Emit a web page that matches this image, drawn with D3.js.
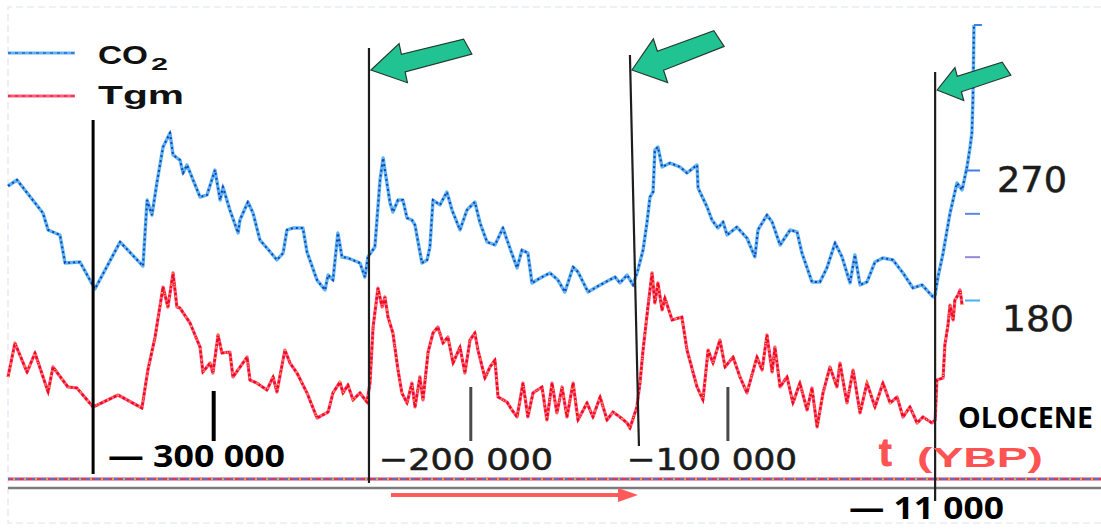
<!DOCTYPE html>
<html>
<head>
<meta charset="utf-8">
<script src="https://cdn.jsdelivr.net/npm/d3@7/dist/d3.min.js"></script>
<style>
body { margin: 0; background: #fff; }
svg { display: block; }
</style>
</head>
<body>
<div id="chart"></div>
<script>
// ages in thousands of years before present (kyr BP)
var co2Age = [380.0,376.5,366.4,364.4,359.8,357.8,352.0,346.2,336.4,327.5,
  325.9,324.0,322.1,319.7,317.0,315.8,313.1,311.9,310.4,305.3,
  302.6,299.5,297.5,296.4,293.7,290.5,289.8,286.7,284.7,282.0,
  279.3,275.4,273.0,271.5,269.2,265.3,263.7,259.8,256.7,255.5,
  253.6,251.7,250.1,247.8,243.1,241.2,240.0,237.3,235.3,234.1,
  233.4,231.4,230.3,228.3,226.4,224.8,222.9,221.7,219.0,217.0,
  215.9,214.7,212.0,209.3,207.3,204.2,201.5,198.4,196.4,193.7,
  190.6,187.5,185.9,182.0,180.1,177.8,176.2,172.3,169.2,166.1,
  163.4,160.2,158.3,154.4,149.7,143.9,142.0,139.2,136.9,135.0,
  133.0,131.5,130.3,129.1,128.4,127.2,125.6,122.5,118.6,115.9,
  112.0,111.6,108.1,106.2,103.9,101.9,100.3,96.5,92.6,89.5,
  88.3,84.8,82.8,79.7,75.8,73.1,71.2,67.3,64.2,61.5,
  58.3,55.6,52.5,50.6,48.6,45.9,42.8,39.7,35.8,31.9,
  28.0,24.5,20.2,19.4,18.3,16.3,13.6,10.9,8.9,7.0,
  5.8,5.1,4.7,4.5,4.3];
// CO2 in ppm
var co2Ppm = [258.9,263.1,240.2,228.5,225.0,205.6,206.3,187.6,220.2,203.5,
  249.2,238.8,261.0,285.9,295.6,280.4,276.9,267.9,273.5,251.3,
  252.7,270.0,249.2,258.2,242.3,226.4,235.4,247.8,240.2,221.5,
  216.0,207.7,212.5,228.5,229.8,229.8,213.2,193.8,186.9,197.3,
  193.8,226.4,209.8,209.1,205.6,195.9,209.8,216.7,263.1,278.3,
  270.0,247.2,240.9,249.2,249.2,236.8,235.4,231.9,205.6,207.7,
  216.7,249.2,245.8,254.8,242.3,228.5,242.3,247.8,233.3,220.2,
  218.1,229.8,221.5,202.2,214.6,212.5,191.8,195.9,198.7,193.8,
  185.5,202.8,199.4,185.5,190.4,195.9,191.8,197.3,190.4,200.8,
  214.6,233.3,251.3,254.8,283.8,285.9,272.1,274.8,272.1,267.9,
  273.5,257.5,244.4,235.4,229.8,234.0,225.0,230.5,222.9,209.8,
  228.5,238.8,234.0,218.1,228.5,227.1,212.5,192.5,192.5,202.2,
  219.5,209.8,191.8,211.2,190.4,192.5,206.3,209.1,207.7,198.7,
  188.3,190.4,182.1,183.5,195.9,212.5,240.2,261.0,256.2,272.1,
  285.9,295.6,318.5,341.3,370.4];

var tgmAge = [380.0,377.3,372.6,369.5,364.4,362.5,356.7,353.2,346.9,337.2,
  327.9,325.6,322.8,319.7,317.8,315.8,314.3,313.1,309.2,305.3,
  304.2,301.4,300.3,298.3,296.8,293.7,292.5,287.0,285.9,283.2,
  279.3,276.9,275.4,272.3,270.3,267.6,263.7,259.8,255.5,253.6,
  250.9,249.7,247.8,245.8,243.1,240.4,239.2,238.0,236.1,234.5,
  233.4,232.2,230.3,228.3,226.8,224.8,222.9,221.7,219.8,218.6,
  216.6,214.7,212.8,210.8,208.9,206.9,204.2,202.3,200.3,198.4,
  197.2,194.5,192.5,190.6,189.4,185.9,184.0,182.0,179.7,177.8,
  175.8,172.3,170.4,168.4,166.5,164.5,162.6,160.2,158.3,154.8,
  152.5,149.7,147.0,144.7,142.0,139.2,138.1,135.4,134.2,133.0,
  131.1,129.5,128.4,127.2,125.6,124.5,121.7,117.9,115.9,112.0,
  109.7,107.7,105.8,103.1,101.1,98.0,95.3,92.6,88.7,86.7,
  84.8,82.8,81.7,79.7,77.0,74.7,72.0,69.2,67.3,65.3,
  63.0,60.3,57.6,56.4,53.7,51.3,48.6,45.9,42.8,39.7,
  36.9,34.2,31.9,29.2,26.4,24.1,20.6,19.4,18.7,16.3,
  15.6,14.4,13.6,12.4,11.7,10.5,9.7,8.9];
// temperature anomaly, deg C
var tgmVal = [-5.15,-2.54,-4.77,-3.31,-6.31,-4.38,-5.92,-6.0,-7.46,-6.54,
  -7.54,-4.62,-2.08,1.77,0.23,2.85,0.23,0.15,-1.0,-2.85,
  -4.77,-4.08,-4.85,-1.92,-3.31,-3.23,-5.15,-3.62,-5.38,-5.62,
  -6.15,-5.15,-6.31,-3.08,-4.08,-4.85,-6.38,-8.31,-7.85,-6.38,
  -5.54,-6.38,-5.77,-6.92,-6.38,-7.08,-5.62,-1.31,1.69,0.23,
  1.0,-0.54,-1.77,-4.62,-6.38,-7.15,-5.62,-7.46,-5.15,-6.92,
  -3.23,-1.77,-1.31,-2.54,-2.08,-4.08,-2.85,-4.85,-2.31,-1.77,
  -3.08,-5.23,-4.38,-3.85,-6.69,-7.08,-7.69,-8.23,-5.62,-8.23,
  -6.38,-5.92,-8.46,-5.62,-7.92,-5.92,-8.23,-5.62,-8.46,-7.15,
  -8.23,-6.69,-8.46,-7.85,-8.23,-8.69,-9.08,-7.46,-5.62,-3.08,
  0.23,2.85,0.54,2.08,0.0,0.92,-0.77,-0.54,-3.08,-5.92,
  -6.92,-3.08,-4.08,-2.31,-4.38,-3.62,-5.15,-6.38,-3.62,-4.62,
  -1.92,-4.77,-2.85,-5.92,-5.15,-7.15,-5.62,-7.69,-6.0,-9.0,
  -6.38,-4.38,-5.92,-4.08,-7.15,-4.62,-7.92,-5.62,-7.46,-5.62,
  -7.15,-6.69,-8.23,-7.46,-8.69,-8.23,-8.69,-8.46,-5.38,-5.23,
  -2.69,-1.15,0.38,-0.77,0.77,1.15,1.54,0.38];

// annotation lines (terminations), kyr BP at top and bottom
var markAgeTop = [346.9, 239.6, 138.1, 19.4];
var markAgeBottom = [346.9, 239.6, 134.6, 19.4];
var tickAges = [300, 200, 100];
var co2Ticks = [180, 210, 240, 270];
var co2Labels = ["270", "180"];
var legendNames = ["CO", "Tgm"];
var xLabels = ["\u2014 300 000", "\u2212200 000", "\u2212100 000", "\u2014 11 000"];

function draw()
{
  var width = 1101, height = 529;

  var svg = d3.select("#chart").append("svg")
    .attr("width", width)
    .attr("height", height);

  var x = d3.scaleLinear().domain([380, 0]).range([8, 985]);
  var yCo2 = d3.scaleLinear().domain([180, 270]).range([300, 170]);
  var yTgm = d3.scaleLinear().domain([-10, 3]).range([440, 271]);

  // light dashed frame
  svg.append("path")
    .attr("d", "M1101,7H8V523H1101")
    .style("fill", "none")
    .style("stroke", "#dfe5ec")
    .style("stroke-width", 1.2)
    .style("stroke-dasharray", "7,4");

  var co2Data = d3.zip(co2Age, co2Ppm);
  var tgmData = d3.zip(tgmAge, tgmVal);

  var co2Line = d3.line()
    .x(function(d) { return x(d[0]); })
    .y(function(d) { return yCo2(d[1]); });
  var tgmLine = d3.line()
    .x(function(d) { return x(d[0]); })
    .y(function(d) { return yTgm(d[1]); });

  // CO2 : light blue halo + dark blue dots
  svg.append("path").datum(co2Data).attr("d", co2Line)
    .style("fill", "none").style("stroke", "#5cb6f2").style("stroke-width", 3.4)
    .style("stroke-linejoin", "round");
  svg.append("path").datum(co2Data).attr("d", co2Line)
    .style("fill", "none").style("stroke", "#1d3db2").style("stroke-width", 2)
    .style("stroke-dasharray", "2,3");

  // Tgm : pink halo + red dots + yellow specks
  svg.append("path").datum(tgmData).attr("d", tgmLine)
    .style("fill", "none").style("stroke", "#ff5c82").style("stroke-width", 3.2)
    .style("stroke-linejoin", "round");
  svg.append("path").datum(tgmData).attr("d", tgmLine)
    .style("fill", "none").style("stroke", "#f00a1e").style("stroke-width", 2.4)
    .style("stroke-dasharray", "3,2");
  svg.append("path").datum(tgmData).attr("d", tgmLine)
    .style("fill", "none").style("stroke", "#ffd526").style("stroke-width", 1.4)
    .style("stroke-dasharray", "1,11");

  // right CO2 axis (ticks only)
  var axisColors = ["#48b0f5", "#9a86d8", "#5f86e6", "#3f7fea"];
  var yAxis = svg.append("g")
    .attr("transform", "translate(965,0)")
    .call(d3.axisRight(yCo2).tickValues(co2Ticks).tickSize(15).tickFormat(""));
  yAxis.select(".domain").remove();
  yAxis.selectAll(".tick line")
    .style("stroke", function(d, i) { return axisColors[i]; })
    .style("stroke-width", 2);
  // cap at the top of the CO2 curve
  svg.append("line")
    .attr("x1", x(co2Age[co2Age.length - 1]))
    .attr("x2", x(co2Age[co2Age.length - 1]) + 8)
    .attr("y1", yCo2(co2Ppm[co2Ppm.length - 1]))
    .attr("y2", yCo2(co2Ppm[co2Ppm.length - 1]))
    .style("stroke", "#3f7fea").style("stroke-width", 2);

  var labelY = [192, 331], labelX = [997, 1002], labelW = [70, 72];
  svg.selectAll(".co2label")
    .data(co2Labels)
    .enter().append("text")
    .attr("class", "co2label")
    .attr("x", function(d, i) { return labelX[i]; })
    .attr("y", function(d, i) { return labelY[i]; })
    .attr("textLength", function(d, i) { return labelW[i]; })
    .attr("lengthAdjust", "spacingAndGlyphs")
    .style("font-family", "DejaVu Sans")
    .style("font-size", "35px")
    .style("fill", "#1c1c1c")
    .style("stroke", "#1c1c1c")
    .style("stroke-width", 0.5)
    .text(function(d) { return d; });

  // base lines of the original plot
  var baseColors = ["#d23c63", "#4a78d6", "#e6c23a"];
  baseColors.forEach(function(c, i) {
    svg.append("line")
      .attr("x1", 8).attr("x2", width)
      .attr("y1", 479).attr("y2", 479)
      .style("stroke", c)
      .style("stroke-width", i == 0 ? 3 : 1.6)
      .style("stroke-dasharray", i == 0 ? null : (i == 1 ? "5,4" : "2,9"))
      .style("stroke-dashoffset", i * 3);
  });
  svg.append("line")
    .attr("x1", 8).attr("x2", width)
    .attr("y1", 488).attr("y2", 488)
    .style("stroke", "#7c7c7c")
    .style("stroke-width", 2.4);

  // short age ticks
  svg.selectAll(".ageTick")
    .data(tickAges)
    .enter().append("line")
    .attr("class", "ageTick")
    .attr("x1", function(d) { return x(d); })
    .attr("x2", function(d) { return x(d); })
    .attr("y1", function(d, i) { return i == 0 ? 391 : 387; })
    .attr("y2", 441)
    .style("stroke", function(d, i) { return i == 0 ? "#000" : "#4a4a4a"; })
    .style("stroke-width", function(d, i) { return i == 0 ? 4 : 3; });

  // vertical annotation lines
  var markTop = [120, 48, 55, 72], markBottom = [474, 483, 446, 501];
  svg.selectAll(".mark")
    .data(markAgeTop)
    .enter().append("line")
    .attr("class", "mark")
    .attr("x1", function(d) { return x(d); })
    .attr("x2", function(d, i) { return x(markAgeBottom[i]); })
    .attr("y1", function(d, i) { return markTop[i]; })
    .attr("y2", function(d, i) { return markBottom[i]; })
    .style("stroke", function(d, i) { return i == 0 ? "#000" : "#1e1e1e"; })
    .style("stroke-width", function(d, i) { return i == 0 ? 3 : 2.2; });

  // green block arrows pointing at the lines
  var arrows = [
    {tipY: 70, L: 97, hl: 33, hw: 20, sw: 9, rot: -12},
    {tipY: 70, L: 90, hl: 30, hw: 23, sw: 10, rot: -18},
    {tipY: 90, L: 70, hl: 23, hw: 17, sw: 8, rot: -15}
  ];
  arrows.forEach(function(a, i) {
    var tipX = x(markAgeTop[i + 1]) + 2;
    var pts = [[0, 0], [a.hl, -a.hw], [a.hl, -a.sw], [a.L, -a.sw - 2],
               [a.L + 5, a.sw * 0.6], [a.hl, a.sw], [a.hl, a.hw]];
    svg.append("polygon")
      .attr("points", pts.map(function(p) { return p.join(","); }).join(" "))
      .attr("transform", "translate(" + tipX + "," + a.tipY + ") rotate(" + a.rot + ")")
      .style("fill", "#22c393")
      .style("stroke", "#243a2e")
      .style("stroke-width", 1.2)
      .style("stroke-linejoin", "miter");
  });

  // red time arrow
  svg.append("line")
    .attr("x1", 391).attr("x2", 622)
    .attr("y1", 495).attr("y2", 495)
    .style("stroke", "#ff5a5a").style("stroke-width", 4);
  svg.append("polygon")
    .attr("points", "638,495 618,488 618,502")
    .style("fill", "#ff5a5a");

  // legend
  var legendColors = ["#5cb6f2", "#ff5c82"], legendDots = ["#1d3db2", "#f00a1e"];
  var legendY = [53, 96], legendW = [50, 86];
  legendNames.forEach(function(n, i) {
    svg.append("line")
      .attr("x1", 8).attr("x2", 75).attr("y1", legendY[i]).attr("y2", legendY[i])
      .style("stroke", legendColors[i]).style("stroke-width", 3);
    svg.append("line")
      .attr("x1", 8).attr("x2", 75).attr("y1", legendY[i]).attr("y2", legendY[i])
      .style("stroke", legendDots[i]).style("stroke-width", 1.2)
      .style("stroke-dasharray", "3,4");
    svg.append("text")
      .attr("x", 98).attr("y", legendY[i] + (i == 0 ? 11 : 8))
      .attr("textLength", legendW[i])
      .attr("lengthAdjust", "spacingAndGlyphs")
      .style("font-family", "Liberation Sans, Arial")
      .style("font-weight", "bold")
      .style("font-size", "26px")
      .style("fill", "#111")
      .text(n);
  });
  svg.append("text")
    .attr("x", 151).attr("y", 70)
    .attr("textLength", 17)
    .attr("lengthAdjust", "spacingAndGlyphs")
    .style("font-family", "Liberation Sans, Arial")
    .style("font-weight", "bold")
    .style("font-size", "17px")
    .style("fill", "#111")
    .text("2");

  // age labels
  var xl = [
    {x: 108, y: 467, w: 177, font: "Open Sans", weight: "bold", size: 31, fill: "#000", sw: 0},
    {x: 379, y: 470, w: 174, font: "DejaVu Sans", weight: "normal", size: 31, fill: "#1c1c1c", sw: 0.6},
    {x: 627, y: 470, w: 170, font: "DejaVu Sans", weight: "normal", size: 31, fill: "#1c1c1c", sw: 0.6},
    {x: 849, y: 519, w: 155, font: "Open Sans", weight: "bold", size: 30, fill: "#000", sw: 0}
  ];
  svg.selectAll(".agelabel")
    .data(xLabels)
    .enter().append("text")
    .attr("class", "agelabel")
    .attr("x", function(d, i) { return xl[i].x; })
    .attr("y", function(d, i) { return xl[i].y; })
    .attr("textLength", function(d, i) { return xl[i].w; })
    .attr("lengthAdjust", "spacingAndGlyphs")
    .style("font-family", function(d, i) { return xl[i].font; })
    .style("font-weight", function(d, i) { return xl[i].weight; })
    .style("font-size", function(d, i) { return xl[i].size + "px"; })
    .style("fill", function(d, i) { return xl[i].fill; })
    .style("stroke", function(d, i) { return xl[i].fill; })
    .style("stroke-width", function(d, i) { return xl[i].sw; })
    .text(function(d) { return d; });

  svg.append("text")
    .attr("x", 958).attr("y", 428)
    .attr("textLength", 135)
    .attr("lengthAdjust", "spacingAndGlyphs")
    .style("font-family", "Open Sans")
    .style("font-weight", "bold")
    .style("font-size", "29px")
    .style("fill", "#000")
    .text("OLOCENE");

  svg.append("text")
    .attr("x", 879).attr("y", 466)
    .style("font-family", "Liberation Sans, Arial")
    .style("font-weight", "bold")
    .style("font-size", "38px")
    .style("fill", "#ff5252")
    .style("stroke", "#ff5252")
    .style("stroke-width", 1)
    .text("t");
  svg.append("text")
    .attr("x", 917).attr("y", 467)
    .attr("textLength", 126)
    .attr("lengthAdjust", "spacingAndGlyphs")
    .style("font-family", "Liberation Sans, Arial")
    .style("font-weight", "bold")
    .style("font-size", "28px")
    .style("fill", "#ff5252")
    .text("(YBP)");
}

draw();
</script>
</body>
</html>
